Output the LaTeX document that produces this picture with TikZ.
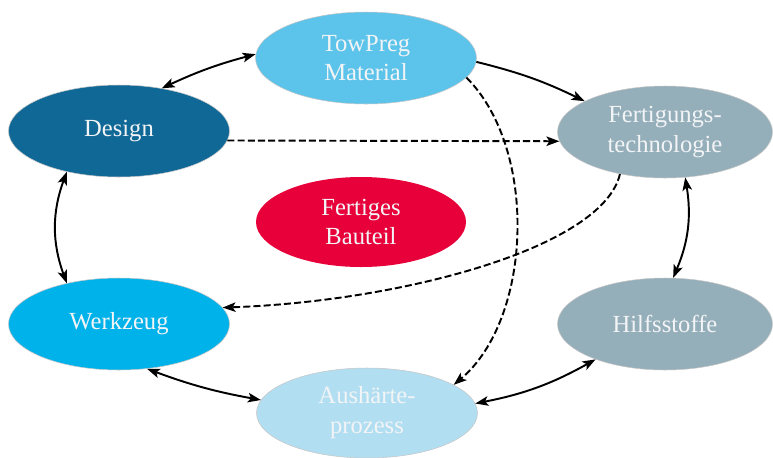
\documentclass[tikz,border=0pt]{standalone}
\usepackage{fontspec}
\setmainfont{Liberation Serif}
\usetikzlibrary{arrows.meta, positioning, shapes.geometric}

\definecolor{towblue}{RGB}{92,196,234}
\definecolor{designblue}{RGB}{16,104,150}
\definecolor{techgray}{RGB}{148,174,186}
\definecolor{partred}{RGB}{232,0,58}
\definecolor{toolcyan}{RGB}{0,178,234}
\definecolor{curepale}{RGB}{178,222,242}
\definecolor{labelwhite}{RGB}{242,244,246}

\begin{document}
\begin{tikzpicture}[
    every node/.style={font=\fontsize{14}{17}\selectfont},
    % Ellipse bubbles
    bubble/.style={ellipse, minimum width=4.42cm, minimum height=1.84cm,
                   inner sep=0pt, draw=gray!45, line width=0.3pt,
                   text=labelwhite, align=center},
    % Solid arrows
    arrow/.style={-{Stealth[length=2.6mm, width=1.9mm, inset=0.6mm]}, line width=1.1pt},
    twoway/.style={{Stealth[length=2.6mm, width=1.9mm, inset=0.6mm]}-{Stealth[length=2.6mm, width=1.9mm, inset=0.6mm]},
                   line width=1.1pt},
    % Dashed arrows
    dasharrow/.style={-{Stealth[length=2.6mm, width=1.9mm, inset=0.6mm]}, line width=1.1pt,
                      dash pattern=on 4pt off 1.8pt}
]

\useasboundingbox (0,0) rectangle (15.46,-9.14);

% === NODES ===

% Top row
\node[bubble, fill=towblue] (towpreg) at (7.32,-1.16) {TowPreg\\Material};

% Upper row
\node[bubble, fill=designblue] (design) at (2.38,-2.62) {Design};
\node[bubble, fill=techgray, minimum width=4.3cm] (fertigung) at (13.3,-2.64) {Fertigungs-\\technologie};

% Center
\node[bubble, fill=partred, draw=none, minimum width=4.2cm, minimum height=1.8cm] (bauteil) at (7.22,-4.44) {Fertiges\\Bauteil};

% Lower row
\node[bubble, fill=toolcyan] (werkzeug) at (2.38,-6.48) {Werkzeug};
\node[bubble, fill=techgray, minimum width=4.3cm] (hilfsstoffe) at (13.3,-6.48) {Hilfsstoffe};

% Bottom
\node[bubble, fill=curepale, minimum height=1.8cm] (aushaerte) at (7.34,-8.26) {Aushärte-\\prozess};

% === SOLID ARROWS ===

\draw[twoway] (design.45) to[bend left=5] (towpreg.178);
\draw[arrow] (towpreg.-2) to[bend left=6] (fertigung.159);
\draw[twoway] (fertigung.-66) to[bend left=16] (hilfsstoffe.80);
\draw[twoway] (hilfsstoffe.207) to[bend left=9] (aushaerte.5);
\draw[twoway] (aushaerte.173) to[bend left=5] (werkzeug.-58);
\draw[twoway] (werkzeug.142) to[bend left=20] (design.218);

% === DASHED ARROWS ===

\draw[dasharrow] (design.-5) -- (fertigung.185);
\draw[dasharrow] (towpreg.-11) to[out=-45, in=40, looseness=0.85] (aushaerte.18);
\draw[dasharrow] (fertigung.223)
    to[out=-103, in=2, out looseness=0.46, in looseness=1.1] (werkzeug.9);

\end{tikzpicture}
\end{document}
